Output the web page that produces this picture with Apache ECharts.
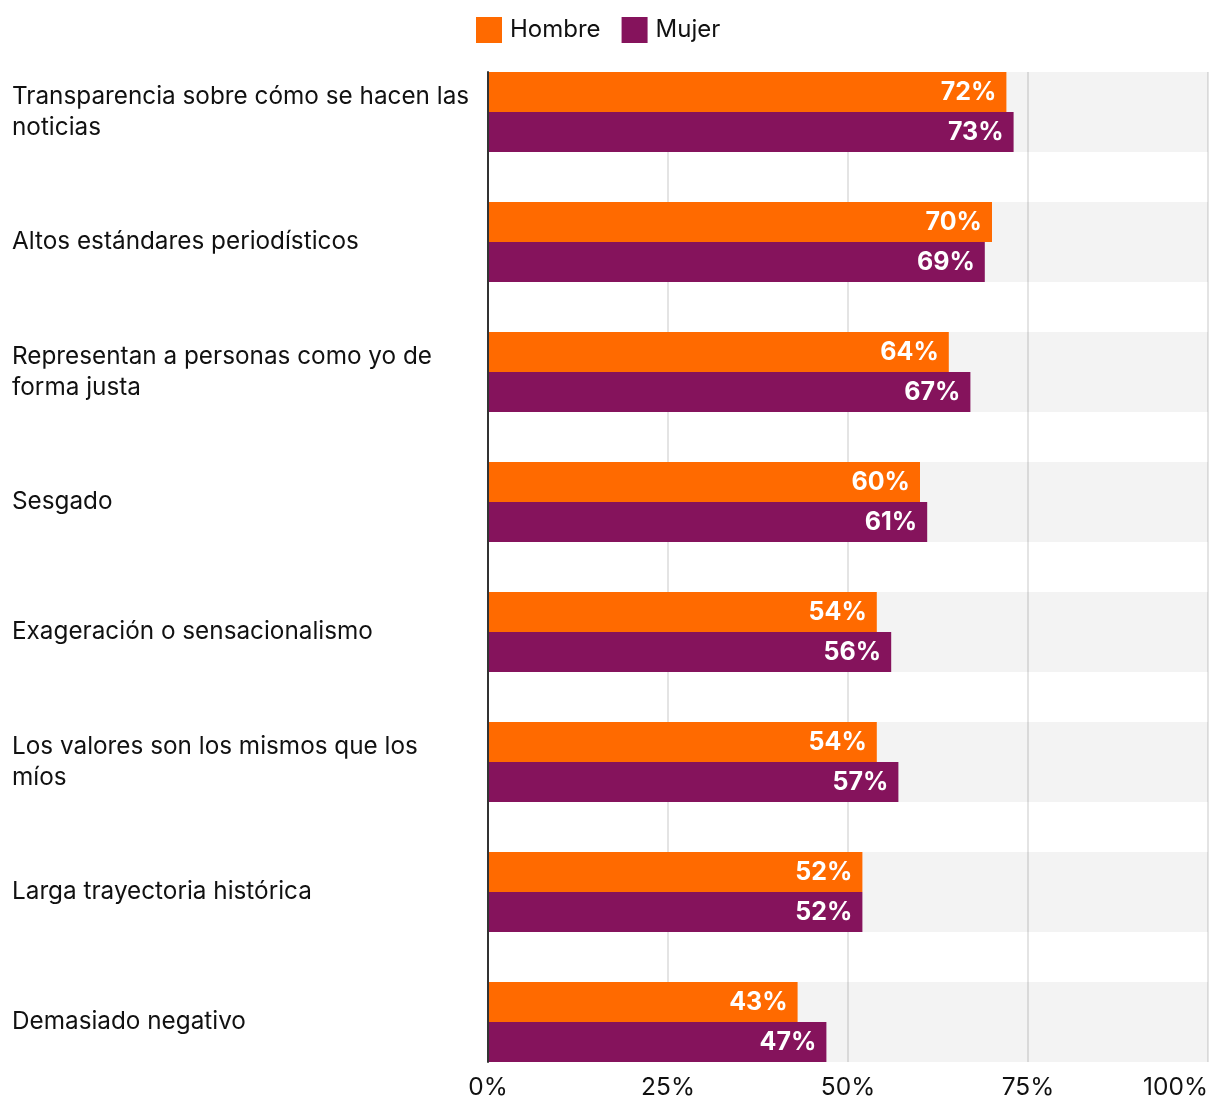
<!DOCTYPE html>
<html>
<head>
<meta charset="utf-8">
<script src="https://cdn.jsdelivr.net/npm/echarts@6/dist/echarts.min.js"></script>
<style>
  html, body { margin: 0; padding: 0; background: #fff; }
  #chart { width: 1220px; height: 1114px; }
</style>
</head>
<body>
<div id="chart"></div>
<script>
const categories = [
  'Transparencia sobre cómo se hacen las\nnoticias',
  'Altos estándares periodísticos',
  'Representan a personas como yo de\nforma justa',
  'Sesgado',
  'Exageración o sensacionalismo',
  'Los valores son los mismos que los\nmíos',
  'Larga trayectoria histórica',
  'Demasiado negativo'
];
const hombre = [72, 70, 64, 60, 54, 54, 52, 43];
const mujer = [73, 69, 67, 61, 56, 57, 52, 47];
const xTicks = [0, 25, 50, 75, 100];

const FONT = 'Inter, "Noto Sans", sans-serif';
const chart = echarts.init(document.getElementById('chart'), null, { renderer: 'canvas' });

const barLabel = {
  show: true,
  position: 'insideRight',
  distance: 10,
  color: '#ffffff',
  fontFamily: FONT,
  fontWeight: 'bold',
  fontSize: 25,
  formatter: p => p.value + '%'
};

chart.setOption({
  animation: false,
  textStyle: { fontFamily: FONT },
  legend: {
    top: 17,
    left: 476,
    padding: 0,
    itemWidth: 26,
    itemHeight: 26,
    itemGap: 21,
    icon: 'rect',
    textStyle: { fontSize: 24, color: '#111', fontFamily: FONT, padding: [0, 0, 0, 3] },
    data: ['Hombre', 'Mujer']
  },
  grid: [
    { left: 488, right: 12, top: 47, height: 1040 },
    { left: 488, right: 12, top: 72, height: 990 }
  ],
  xAxis: [
    {
      gridIndex: 0, type: 'value', min: 0, max: 100, interval: 25,
      axisLabel: { show: false }, axisLine: { show: false }, axisTick: { show: false },
      splitLine: { show: false }
    },
    {
      gridIndex: 1, type: 'value', min: xTicks[0], max: xTicks[xTicks.length - 1], interval: 25,
      axisLabel: {
        show: true, fontSize: 24.5, color: '#111', fontFamily: FONT, margin: 13,
        alignMaxLabel: 'right',
        formatter: v => v + '%'
      },
      axisLine: { show: false }, axisTick: { show: false },
      splitLine: { show: true, lineStyle: { color: '#e4e4e4', width: 2 } }
    }
  ],
  yAxis: [
    {
      gridIndex: 0, type: 'category', inverse: true, data: categories,
      axisLine: { show: false }, axisTick: { show: false },
      axisLabel: {
        show: true, align: 'left', margin: 476, fontSize: 24.3, lineHeight: 31,
        color: '#111', fontFamily: FONT
      },
      splitLine: { show: false }
    },
    {
      gridIndex: 1, type: 'category', inverse: true, data: categories, z: 5,
      axisLine: { show: true, lineStyle: { color: '#333', width: 2 } },
      axisTick: { show: false }, axisLabel: { show: false }, splitLine: { show: false }
    }
  ],
  series: [
    {
      name: 'Hombre', type: 'bar', xAxisIndex: 0, yAxisIndex: 0,
      data: hombre, barWidth: 40, barGap: '0%',
      itemStyle: { color: '#ff6a00' },
      showBackground: true,
      backgroundStyle: { color: 'rgba(0,0,0,0.047)' },
      label: barLabel
    },
    {
      name: 'Mujer', type: 'bar', xAxisIndex: 0, yAxisIndex: 0,
      data: mujer, barWidth: 40, barGap: '0%',
      itemStyle: { color: '#85135c' },
      showBackground: true,
      backgroundStyle: { color: 'rgba(0,0,0,0.047)' },
      label: barLabel
    }
  ]
});
</script>
</body>
</html>
